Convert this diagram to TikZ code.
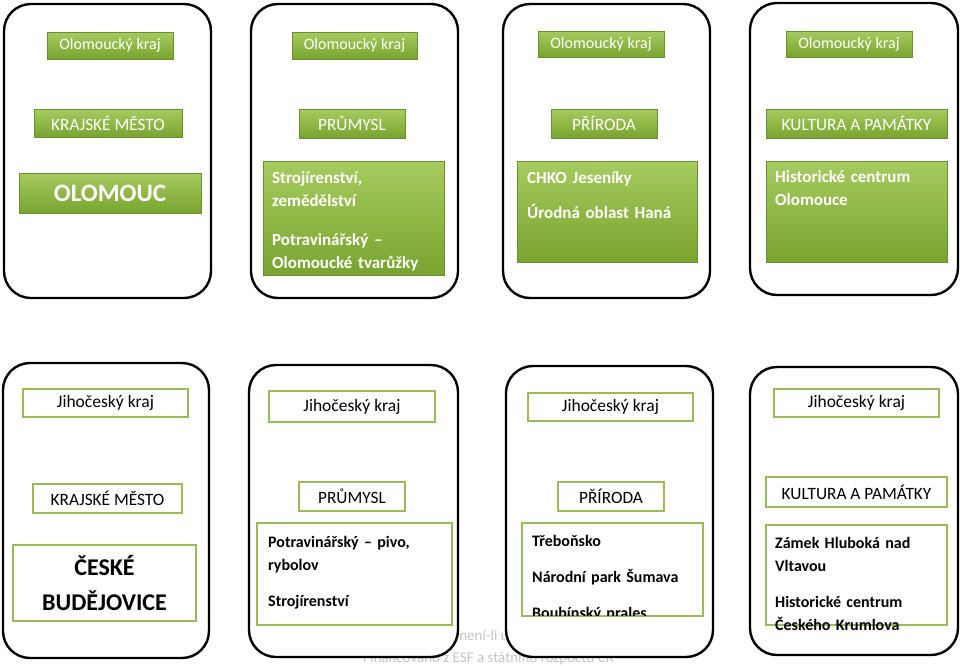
\documentclass[tikz,border=0pt]{standalone}
\usepackage{fontspec}
\setmainfont{Carlito}

\definecolor{greentop}{HTML}{A6CB5F}
\definecolor{greenbot}{HTML}{78A42F}
\definecolor{greenedge}{HTML}{6B8E2F}
\definecolor{greenline}{HTML}{9BBB59}
\definecolor{notegray}{HTML}{C4C4C4}

\tikzset{
  wh/.style 2 args={minimum width=#1pt, minimum height=#2pt},
  card/.style={draw=black, line width=2.4pt, rounded corners=27pt, fill=white, inner sep=0pt},
  gbox/.style={draw=greenedge, line width=0.8pt, top color=greentop, bottom color=greenbot, text=white, inner sep=0pt},
  wbox/.style={draw=greenline, line width=2.6pt, fill=white, text=black, inner sep=0pt},
  kraj/.style={font=\fontsize{16}{19}\selectfont},
  krajb/.style={font=\fontsize{17.5}{20}\selectfont},
  head/.style={font=\fontsize{17.3}{20}\selectfont},
  body/.style={font=\bfseries\fontsize{16}{23}\selectfont, text width=178pt, align=left, inner sep=0pt, anchor=base west},
  note/.style={font=\fontsize{15}{18}\selectfont, text=notegray, inner sep=0pt, anchor=base west},
}

\begin{document}
\begin{tikzpicture}[x=1pt, y=-1pt]
  \useasboundingbox (0,0) rectangle (960,665);

  % footer of the slide, mostly covered
  \node[note] (n1) at (452,640) {, není-li uvedeno jinak};
  \node[note] (n2) at (363,662) {Financováno z ESF a státního rozpočtu ČR};

  % Olomoucký kraj
  \node[card, wh={207}{294}] (c1) at (107.5,151) {};
  \node[card, wh={207}{294}] (c2) at (354.5,151) {};
  \node[card, wh={207}{294}] (c3) at (606.5,151) {};
  \node[card, wh={208}{292}] (c4) at (854,149) {};

  \node[gbox, kraj, wh={126}{27}] (k1) at (110,45.5) {Olomoucký kraj};
  \node[gbox, kraj, wh={125}{27}] (k2) at (354.5,45.5) {Olomoucký kraj};
  \node[gbox, kraj, wh={126}{26}] (k3) at (601,44) {Olomoucký kraj};
  \node[gbox, kraj, wh={126}{26}] (k4) at (849,44) {Olomoucký kraj};

  \node[gbox, head, wh={148}{28}] (h1) at (108,123) {KRAJSKÉ MĚSTO};
  \node[gbox, head, wh={106}{29}] (h2) at (352,123.5) {PRŮMYSL};
  \node[gbox, head, wh={106}{29}] (h3) at (604,123.5) {PŘÍRODA};
  \node[gbox, head, wh={181}{29}] (h4) at (856.5,123.5) {KULTURA A PAMÁTKY};

  \node[gbox, wh={182}{40}, font=\bfseries\fontsize{25}{30}\selectfont] (b1) at (110,193) {OLOMOUC};
  \node[gbox, wh={181}{114}] (b2) at (353.5,218) {};
  \node[gbox, wh={180}{101}] (b3) at (607,211.5) {};
  \node[gbox, wh={181}{101}] (b4) at (856.5,211.5) {};

  \node[body, text=white, font=\bfseries\fontsize{17}{23}\selectfont] (t2) at (272,183) {Strojírenství,\\ zemědělství\\[16pt] Potravinářský --\\ Olomoucké tvarůžky};
  \node[body, text=white, font=\bfseries\fontsize{17}{23}\selectfont] (t3) at (527,183) {CHKO Jeseníky\\[12pt] Úrodná oblast Haná};
  \node[body, text=white, font=\bfseries\fontsize{17}{23}\selectfont] (t4) at (775,182) {Historické centrum\\ Olomouce};

  % Jihočeský kraj
  \node[card, wh={206}{295}] (c5) at (106,510.5) {};
  \node[card, wh={209}{292}] (c6) at (353.5,511) {};
  \node[card, wh={207}{291}] (c7) at (609.5,511.5) {};
  \node[card, wh={208}{288}] (c8) at (854,511) {};

  \node[wbox, krajb, wh={165}{28}] (k5) at (105.5,403) {Jihočeský kraj};
  \node[wbox, krajb, wh={166}{31}] (k6) at (352,406.5) {Jihočeský kraj};
  \node[wbox, krajb, wh={165}{28}] (k7) at (610.5,407) {Jihočeský kraj};
  \node[wbox, krajb, wh={165}{28}] (k8) at (856.5,403) {Jihočeský kraj};

  \node[wbox, head, wh={149}{29}] (h5) at (107.5,498.5) {KRAJSKÉ MĚSTO};
  \node[wbox, head, wh={106}{29}] (h6) at (352,496.5) {PRŮMYSL};
  \node[wbox, head, wh={106}{29}] (h7) at (611,496.5) {PŘÍRODA};
  \node[wbox, head, wh={181}{30}] (h8) at (856.5,492) {KULTURA A PAMÁTKY};

  \node[wbox, wh={183}{76}, align=center, font=\bfseries\fontsize{24}{35}\selectfont] (b5) at (104.5,583) {ČESKÉ\\ BUDĚJOVICE};
  \node[wbox, wh={195}{102}] (b6) at (354.5,574) {};
  \node[wbox, wh={181}{93}] (b7) at (612.5,569.5) {};
  \node[wbox, wh={181}{100}] (b8) at (856.5,575) {};

  \node[body] (t6) at (268,547) {Potravinářský -- pivo,\\ rybolov\\[13pt] Strojírenství};
  \begin{scope}
    \clip ([shift={(2pt,-2pt)}]b7.north west) rectangle ([shift={(-2pt,2pt)}]b7.south east);
    \node[body] (t7) at (532,546) {Třeboňsko\\[13pt] Národní park Šumava\\[13pt] Boubínský prales};
  \end{scope}
  \node[body] (t8) at (775,548) {Zámek Hluboká nad\\ Vltavou\\[13pt] Historické centrum\\ Českého Krumlova};
\end{tikzpicture}
\end{document}
